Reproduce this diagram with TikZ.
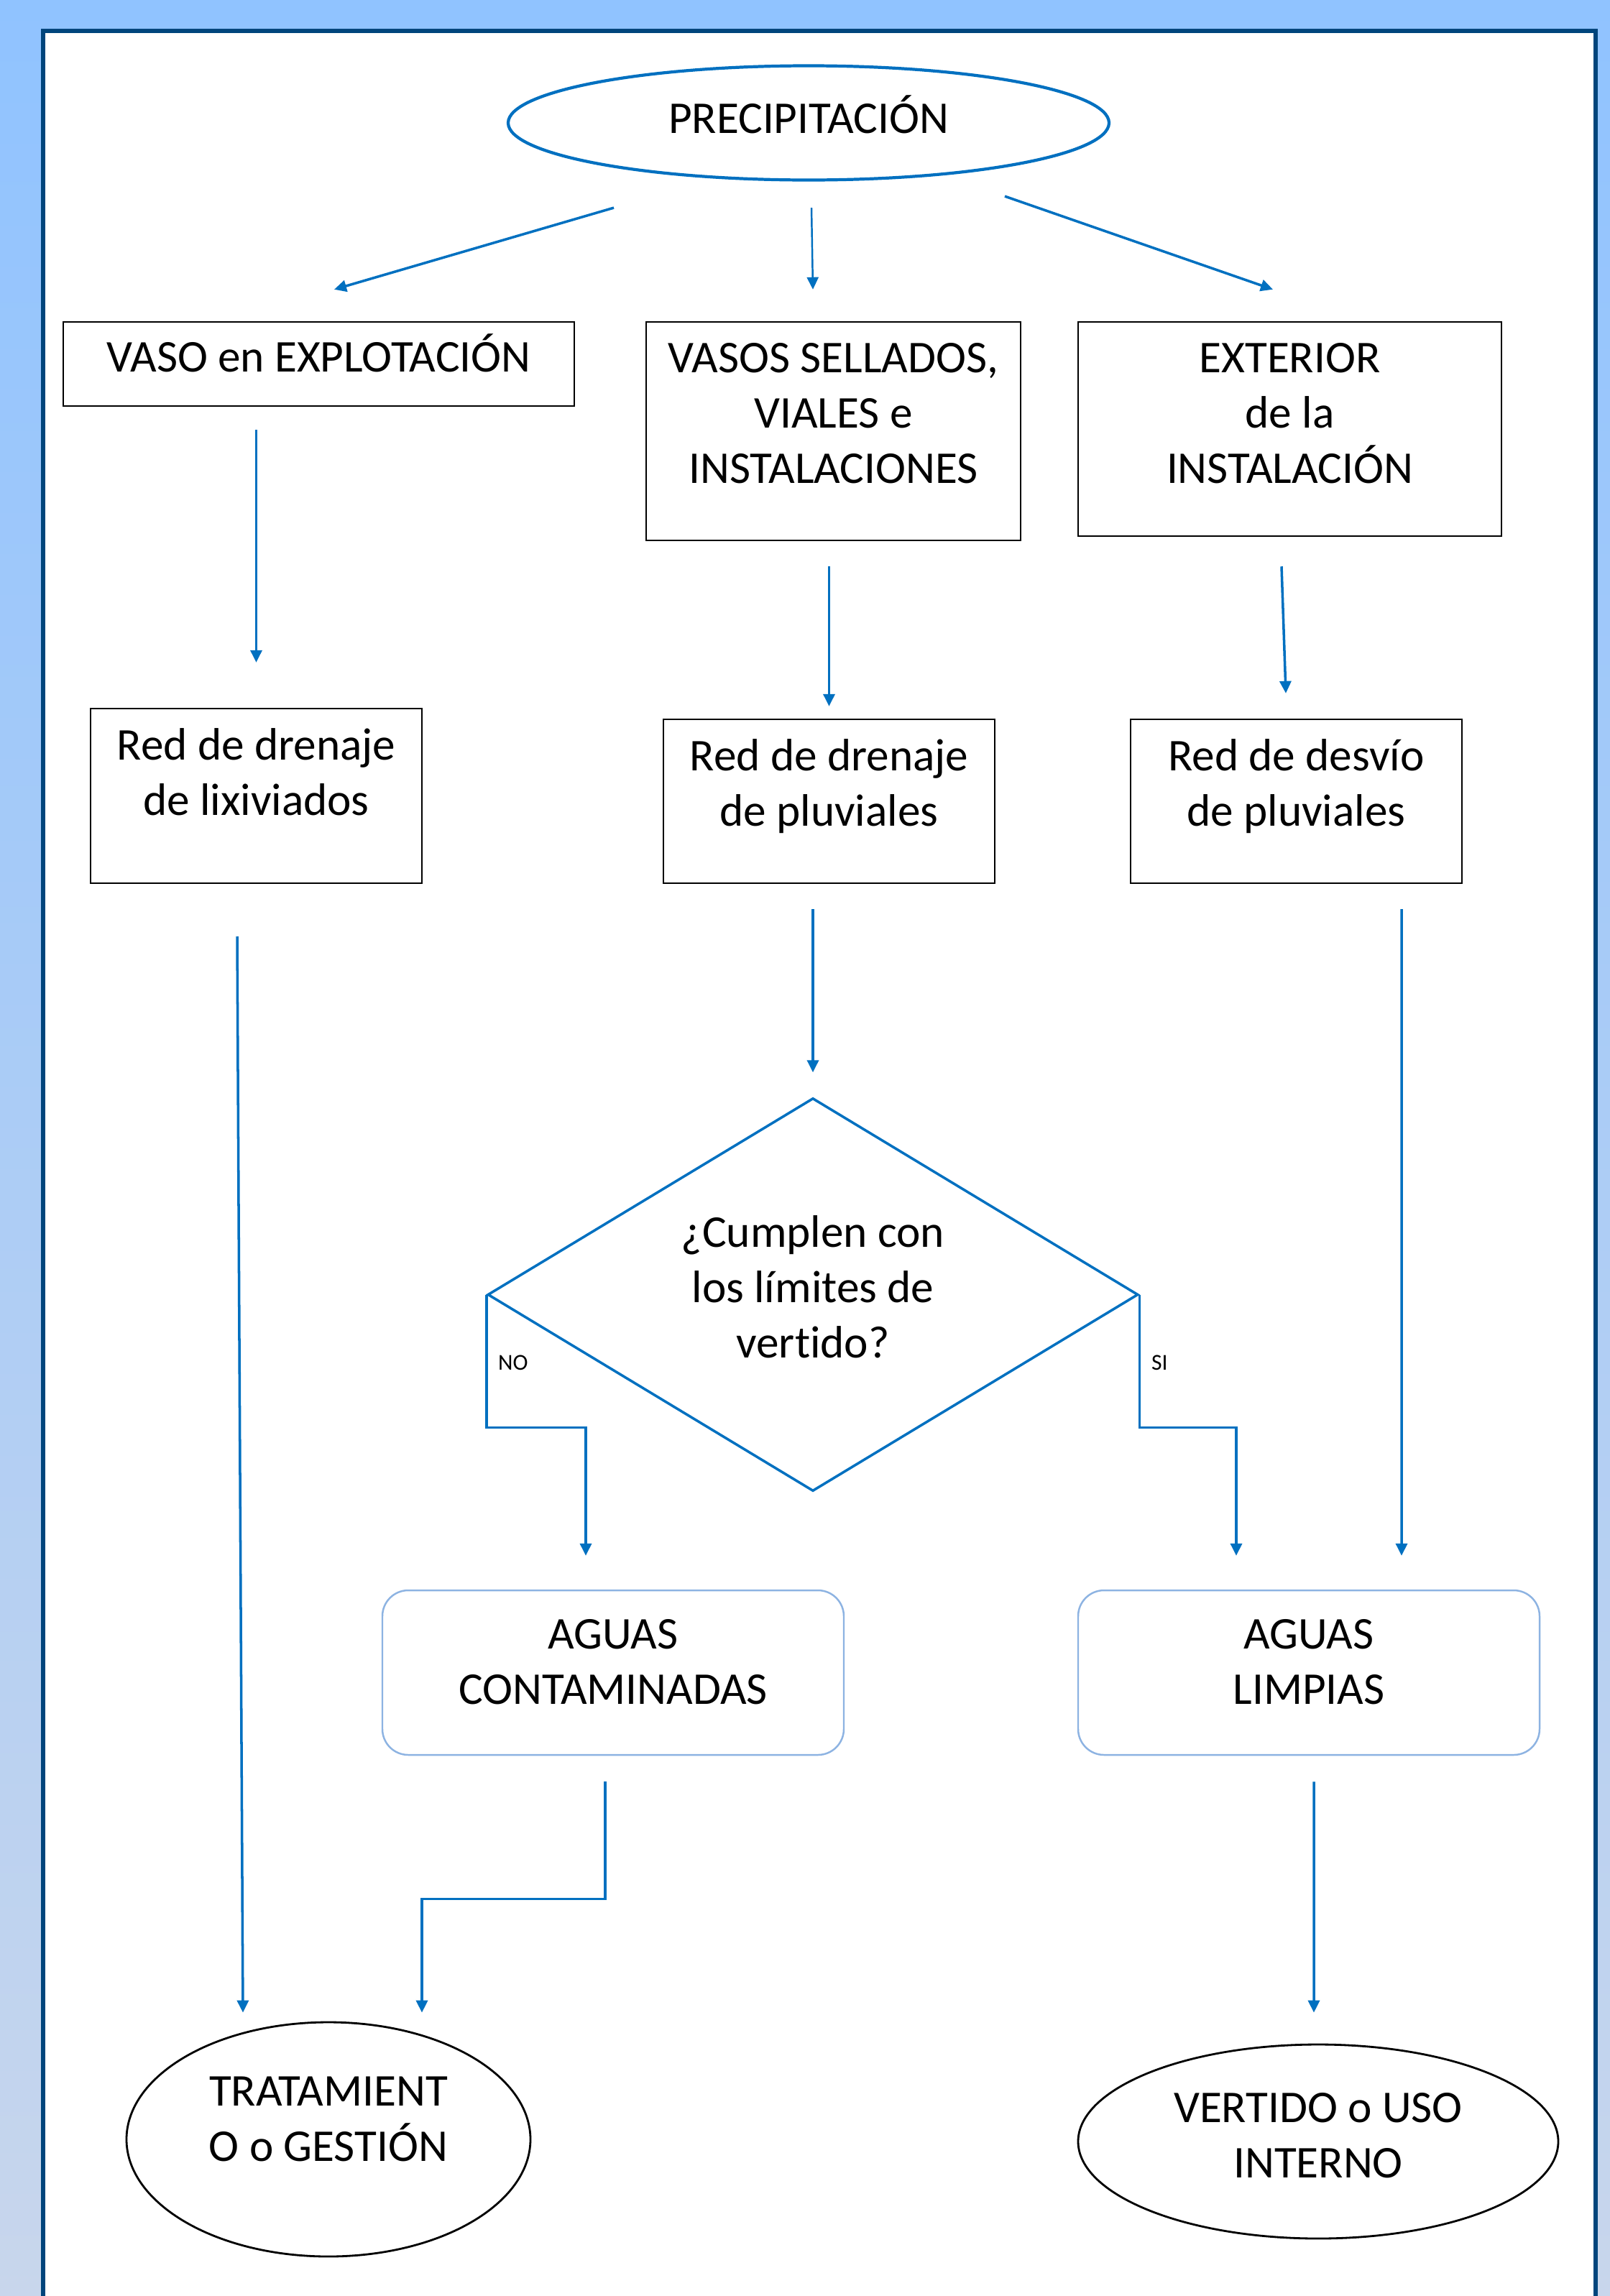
\documentclass[tikz,border=0pt]{standalone}
\usepackage{fontspec}
\setmainfont{Carlito}[Ligatures=NoCommon]
\usetikzlibrary{arrows.meta, shapes.geometric}
\definecolor{flowblue}{HTML}{0070C0}
\definecolor{frameblue}{HTML}{00457C}
\definecolor{softblue}{HTML}{8DB3E2}
\definecolor{bgtop}{RGB}{144,195,255}
\definecolor{bgbot}{RGB}{200,214,236}
\tikzset{
  flow/.style={-{Triangle[length=1.7mm, width=1.6mm]}, line width=1pt, color=flowblue},
  caja/.style={draw=black, line width=0.7pt, inner sep=0pt},
  redonda/.style={draw=softblue, line width=0.7pt, rounded corners=3.6mm, inner sep=0pt},
  rombo/.style={diamond, draw=flowblue, line width=1pt, inner sep=0pt},
  elipse/.style={ellipse, draw=black, line width=0.8pt, inner sep=0pt},
  txt/.style={align=center, inner sep=0pt, font=\fontsize{18}{21.9}\selectfont},
  etiq/.style={inner sep=0pt, font=\fontsize{9}{10}\selectfont}
}
\begin{document}
\begin{tikzpicture}
\useasboundingbox (0,0) rectangle (22.4,-31.95);
% fondo y marco
\fill[top color=bgtop, bottom color=bgbot] (0,0) rectangle (22.4,-31.95);
\fill[white] (0.60,-0.43) rectangle (22.20,-31.95);
\draw[frameblue, line width=0.06cm] (0.60,-31.95) -- (0.60,-0.43) -- (22.20,-0.43) -- (22.20,-31.95);

% formas
\node[elipse, draw=flowblue, line width=1.2pt, minimum width=8.36cm, minimum height=1.59cm] (prec) at (11.25,-1.71) {};
\node[caja, minimum width=7.11cm, minimum height=1.17cm] (vaso) at (4.435,-5.065) {};
\node[caja, minimum width=5.21cm, minimum height=3.04cm] (sell) at (11.595,-6.00) {};
\node[caja, minimum width=5.89cm, minimum height=2.98cm] (ext) at (17.945,-5.97) {};
\node[caja, minimum width=4.61cm, minimum height=2.43cm] (lix) at (3.565,-11.075) {};
\node[caja, minimum width=4.61cm, minimum height=2.28cm] (pluv) at (11.535,-11.15) {};
\node[caja, minimum width=4.61cm, minimum height=2.28cm] (desv) at (18.035,-11.15) {};
\node[rombo, minimum width=9.05cm, minimum height=5.47cm] (dec) at (11.31,-18.015) {};
\node[redonda, minimum width=6.42cm, minimum height=2.29cm] (cont) at (8.53,-23.275) {};
\node[redonda, minimum width=6.42cm, minimum height=2.29cm] (limp) at (18.21,-23.275) {};
\node[elipse, minimum width=5.62cm, minimum height=3.26cm] (trat) at (4.57,-29.77) {};
\node[elipse, minimum width=6.68cm, minimum height=2.70cm] (vert) at (18.34,-29.80) {};

% textos
\node[txt] (prect) at ([yshift=0.12cm]prec.center) {PRECIPITACIÓN};
\node[txt] (vasot) at ([yshift=0.15cm]vaso.center) {VASO en EXPLOTACIÓN};
\node[txt] (sellt) at ([yshift=0.25cm]sell.center) {VASOS SELLADOS,\\VIALES e\\INSTALACIONES};
\node[txt] (extt) at ([yshift=0.22cm]ext.center) {EXTERIOR\\de la\\INSTALACIÓN};
\node[txt] (lixt) at ([yshift=0.33cm]lix.center) {Red de drenaje\\de lixiviados};
\node[txt] (pluvt) at ([yshift=0.21cm]pluv.center) {Red de drenaje\\de pluviales};
\node[txt] (desvt) at ([yshift=0.21cm]desv.center) {Red de desvío\\de pluviales};
\node[txt] (dect) at ([yshift=0.11cm]dec.center) {¿Cumplen con\\los límites de\\vertido?};
\node[txt] (contt) at ([yshift=0.15cm]cont.center) {AGUAS\\CONTAMINADAS};
\node[txt] (limpt) at ([yshift=0.15cm]limp.center) {AGUAS\\LIMPIAS};
\node[txt] (tratt) at ([yshift=0.28cm]trat.center) {TRATAMIENT\\O o GESTIÓN};
\node[txt] (vertt) at ([yshift=0.08cm]vert.center) {VERTIDO o USO\\INTERNO};
\node[etiq] (no) at ([shift={(0.37,-0.95)}]dec.west) {NO};
\node[etiq] (si) at ([shift={(0.28,-0.95)}]dec.east) {SI};

% conexiones
\draw[flow] ([shift={(-2.71,-0.365)}]prec.south) -- ([shift={(0.215,0.44)}]vaso.north);
\draw[flow, line width=0.7pt] ([shift={(0.04,-0.365)}]prec.south) -- ([shift={(-0.285,0.44)}]sell.north);
\draw[flow] ([shift={(2.73,-0.205)}]prec.south) -- ([shift={(-0.235,0.44)}]ext.north);
\draw[flow, shorten <=3.2mm, shorten >=6.3mm] (vaso.south -| lix.north) -- (lix.north);
\draw[flow, shorten <=3.5mm, shorten >=1.7mm] (sell.south -| pluv.north) -- (pluv.north);
\draw[flow] ([shift={(-0.115,-0.41)}]ext.south) -- ([shift={(-0.145,0.35)}]desv.north);
\draw[flow] ([shift={(-0.265,-0.73)}]lix.south) -- ([shift={(-1.19,0.12)}]trat.north);
\draw[flow, shorten <=3.5mm, shorten >=3.4mm] (pluv.south -| dec.north) -- (dec.north);
\draw[flow] ([shift={(1.465,-0.35)}]desv.south) -- ([shift={(1.29,0.47)}]limp.north);
\draw[flow] (dec.west) -- ++(0,-1.85) -| ([shift={(-0.38,0.47)}]cont.north);
\draw[flow] (dec.east) -- ++(0,-1.85) -| ([shift={(-1.01,0.47)}]limp.north);
\draw[flow] ([shift={(-0.11,-0.36)}]cont.south) -- ++(0,-1.63) -| ([shift={(1.30,0.12)}]trat.north);
\draw[flow] ([shift={(0.07,-0.36)}]limp.south) -- ([shift={(-0.06,0.43)}]vert.north);
\end{tikzpicture}
\end{document}
